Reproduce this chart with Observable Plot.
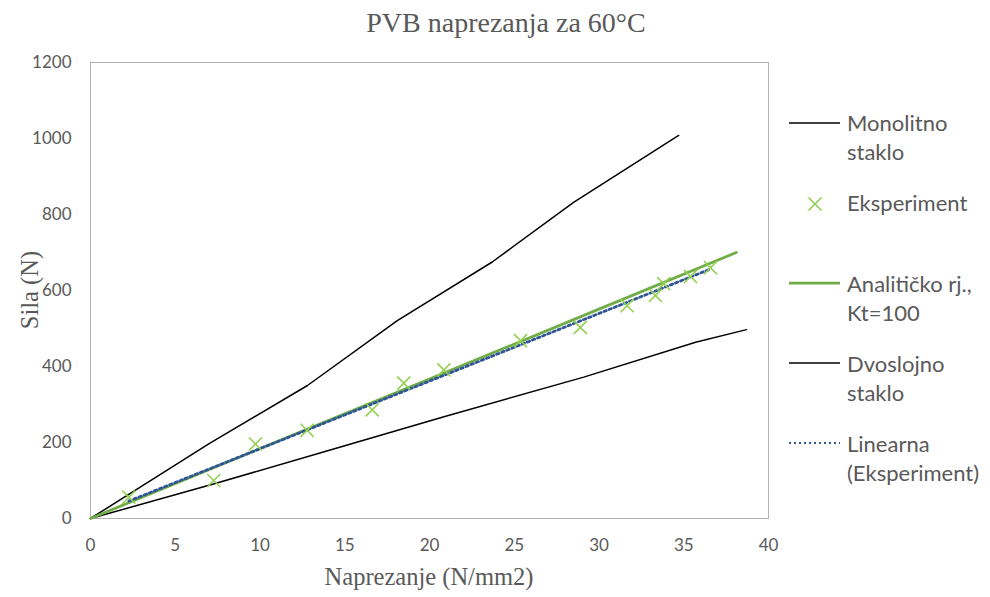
<!DOCTYPE html>
<html>
<head>
<meta charset="utf-8">
<script src="https://cdn.jsdelivr.net/npm/d3@7"></script>
<script src="https://cdn.jsdelivr.net/npm/@observablehq/plot@0.6"></script>
<style>
  body { margin: 0; background: white; }
  #wrap { position: relative; width: 990px; height: 597px; overflow: hidden; background: white; }
  #chart { position: absolute; left: 0; top: 0; }
  .t { position: absolute; color: #595959; white-space: nowrap; }
  .serif { font-family: "Liberation Serif", "Times New Roman", serif; }
  .leg { font-family: Lato, "Noto Sans", sans-serif; font-size: 22px; line-height: 29px; }
</style>
</head>
<body>
<div id="wrap">
  <div id="chart"></div>
</div>
<script>
// ---- data ----
const xTicks = [0, 5, 10, 15, 20, 25, 30, 35, 40];
const yTicks = [0, 200, 400, 600, 800, 1000, 1200];

const monoX = [0, 7.0, 12.8, 18.1, 23.7, 28.5, 34.7];
const monoY = [0, 197, 350, 521, 675, 832, 1008];

const dvoX = [0, 7.2, 14.9, 20.7, 29.1, 35.7, 38.7];
const dvoY = [0, 90, 190, 266, 372, 464, 497];

const anaX = [0, 10, 20, 30, 38.1];
const anaY = [0, 184, 367, 551, 700];

const expX = [2.26, 7.27, 9.73, 12.78, 16.62, 18.48, 20.85, 25.37, 28.9, 31.66, 33.33, 33.82, 35.4, 36.58];
const expY = [56, 100, 196, 232, 286, 356, 391, 468, 503, 560, 587, 618, 637, 660];

const title = "PVB naprezanja za 60°C";
const xLabel = "Naprezanje (N/mm2)";
const yLabel = "Sila (N)";
const legendItems = [
  {label: ["Monolitno", "staklo"], kind: "black"},
  {label: ["Eksperiment"], kind: "cross"},
  {label: ["Analitičko rj.,", "Kt=100"], kind: "green"},
  {label: ["Dvoslojno", "staklo"], kind: "black"},
  {label: ["Linearna", "(Eksperiment)"], kind: "dotted"}
];

const zip = (xs, ys) => xs.map((x, i) => ({x, y: ys[i]}));
const mono = zip(monoX, monoY);
const dvo = zip(dvoX, dvoY);
const ana = zip(anaX, anaY);
const exp = zip(expX, expY);

const chart = Plot.plot({
  width: 990,
  height: 597,
  marginLeft: 90,
  marginRight: 222,
  marginTop: 62,
  marginBottom: 79,
  style: {fontFamily: "Lato, 'Noto Sans', sans-serif", fontSize: "17px", color: "#595959", background: "white"},
  x: {domain: [0, 40], ticks: xTicks, tickSize: 0, tickPadding: 20, label: null, tickFormat: d => String(d)},
  y: {domain: [0, 1200], ticks: yTicks, tickSize: 0, tickPadding: 19, label: null, tickFormat: d => String(d)},
  marks: [
    Plot.frame({stroke: "#b3b3b3", strokeWidth: 1}),
    Plot.line(mono, {x: "x", y: "y", stroke: "#000", strokeWidth: 1.5}),
    Plot.line(dvo, {x: "x", y: "y", stroke: "#000", strokeWidth: 1.5}),
    Plot.line(ana, {x: "x", y: "y", stroke: "#70ad47", strokeWidth: 2.75}),
    Plot.linearRegressionY(exp, {x: "x", y: "y", ci: 0, stroke: "#2f5597", strokeWidth: 2.75, strokeDasharray: "2.5,3"}),
    Plot.dot(exp, {x: "x", y: "y", symbol: "times", r: 6, stroke: "#92d050", strokeWidth: 1.6})
  ]
});
document.getElementById("chart").appendChild(chart);

const wrap = document.getElementById("wrap");
function addText(txt, cls, styles) {
  const d = document.createElement("div");
  d.className = "t " + cls;
  d.textContent = txt;
  Object.assign(d.style, styles);
  wrap.appendChild(d);
  return d;
}
// title
addText(title, "serif", {fontSize: "28px", left: "0px", width: "1012px", textAlign: "center", top: "6px", lineHeight: "34px"});
// x label
addText(xLabel, "serif", {fontSize: "24.5px", left: "229px", width: "400px", textAlign: "center", top: "562px", lineHeight: "30px"});
// y label
addText(yLabel, "serif", {fontSize: "24.5px", left: "-70px", width: "200px", textAlign: "center", top: "275px", lineHeight: "30px", transform: "rotate(-90deg)"});

// legend
const rows = [[122, 123], [202, 204], [283, 283], [363, 363], [443, 443]];
const NS = "http://www.w3.org/2000/svg";
legendItems.forEach((it, i) => {
  const [ty, sy] = rows[i];
  it.label.forEach((ln, j) => {
    addText(ln, "leg", {left: "847px", top: (ty - 14.5 + j * 29) + "px"});
  });
  const s = document.createElementNS(NS, "svg");
  s.setAttribute("width", 56); s.setAttribute("height", 20);
  s.style.position = "absolute"; s.style.left = "787px"; s.style.top = (sy - 10) + "px";
  if (it.kind === "cross") {
    const p = document.createElementNS(NS, "path");
    p.setAttribute("d", "M21.5,3.5L34.5,16.5M34.5,3.5L21.5,16.5");
    p.setAttribute("stroke", "#92d050"); p.setAttribute("stroke-width", 1.6);
    s.appendChild(p);
  } else {
    const l = document.createElementNS(NS, "line");
    l.setAttribute("x1", 2); l.setAttribute("x2", 53); l.setAttribute("y1", 10); l.setAttribute("y2", 10);
    if (it.kind === "black") { l.setAttribute("stroke", "#000"); l.setAttribute("stroke-width", 1.5); }
    if (it.kind === "green") { l.setAttribute("stroke", "#70ad47"); l.setAttribute("stroke-width", 2.75); }
    if (it.kind === "dotted") { l.setAttribute("stroke", "#2f5597"); l.setAttribute("stroke-width", 2); l.setAttribute("stroke-dasharray", "2,3"); }
    s.appendChild(l);
  }
  wrap.appendChild(s);
});
</script>
</body>
</html>
